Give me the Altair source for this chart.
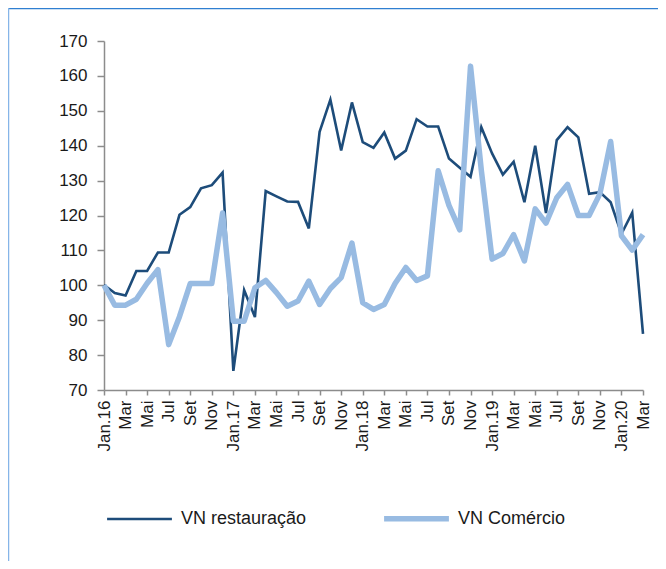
import altair as alt
import pandas as pd

series_names = ["VN restauração", "VN Comércio"]
series_colors = ["#1d4c7a", "#98bbe2"]
series_widths = [2.6, 5.5]

restauracao = [100.1, 97.8, 97.1, 104.1, 104.1, 109.4, 109.4, 120.2, 122.4, 127.8,
               128.7, 132.3, 75.5, 98.6, 90.9, 127.0, 125.5, 124.0, 123.9, 116.3,
               144.0, 153.2, 138.6, 152.4, 141.0, 139.4, 143.8, 136.3, 138.6, 147.6,
               145.5, 145.5, 136.3, 133.7, 131.1, 145.3, 137.8, 131.7, 135.4, 123.8,
               140.0, 120.7, 141.6, 145.3, 142.4, 126.2, 126.7, 123.8, 114.7, 120.8,
               86.1]
comercio = [100.0, 94.3, 94.3, 96.0, 100.6, 104.5, 83.0, 91.0, 100.5, 100.5,
            100.5, 120.7, 89.7, 89.7, 99.3, 101.4, 97.9, 94.0, 95.5, 101.2,
            94.5, 99.1, 102.2, 112.1, 95.0, 93.1, 94.5, 100.5, 105.1, 101.4,
            102.7, 132.8, 122.9, 115.9, 162.8, 133.0, 107.5, 109.1, 114.5, 107.0,
            121.9, 117.8, 125.1, 128.9, 120.0, 120.0, 126.2, 141.2, 114.2, 110.1,
            114.5]

tick_labels = ["Jan.16", "Mar", "Mai", "Jul", "Set", "Nov",
               "Jan.17", "Mar", "Mai", "Jul", "Set", "Nov",
               "Jan.18", "Mar", "Mai", "Jul", "Set", "Nov",
               "Jan.19", "Mar", "Mai", "Jul", "Set", "Nov",
               "Jan.20", "Mar"]
y_ticks = [70, 80, 90, 100, 110, 120, 130, 140, 150, 160, 170]

rows = []
for name, vals in zip(series_names, [restauracao, comercio]):
    for i, v in enumerate(vals):
        rows.append({"m": i, "v": v, "serie": name})
df = pd.DataFrame(rows)

FONT = "Liberation Sans"
label_expr = "[" + ",".join("'" + t + "'" for t in tick_labels) + "][round(datum.value / 2)]"


def make_legend():
    return alt.Legend(title=None, orient="none", legendX=0, legendY=442,
                      direction="horizontal", columns=2, columnPadding=66,
                      symbolType="stroke", symbolSize=4200,
                      labelFontSize=18, labelFont=FONT, labelColor="#1a1a1a",
                      labelOffset=6, padding=0)


color = alt.Color("serie:N",
                  scale=alt.Scale(domain=series_names, range=series_colors),
                  legend=make_legend())
width_enc = alt.StrokeWidth("serie:N",
                            scale=alt.Scale(domain=series_names, range=series_widths),
                            legend=make_legend())

x_enc = alt.X("m:Q", scale=alt.Scale(domain=[0, len(restauracao) - 1], nice=False, zero=False),
              axis=alt.Axis(title=None, values=list(range(0, len(restauracao), 2)),
                            labelExpr=label_expr, labelAngle=-90, labelAlign="right",
                            labelBaseline="middle", labelFontSize=17, labelFont=FONT,
                            labelColor="#1a1a1a", tickSize=5, labelPadding=5,
                            domainColor="#8c8c8c", tickColor="#8c8c8c", domainWidth=1.5,
                            tickWidth=1.5, grid=False, labelOverlap=False))
y_enc = alt.Y("v:Q", scale=alt.Scale(domain=[70, 170], nice=False, zero=False),
              axis=alt.Axis(title=None, values=y_ticks, labelFontSize=17, labelFont=FONT,
                            labelColor="#1a1a1a", tickSize=7, labelPadding=10,
                            domainColor="#8c8c8c", tickColor="#8c8c8c", domainWidth=1.5,
                            tickWidth=1.5, grid=False))

base = alt.Chart(df)
line_r = base.transform_filter(alt.datum.serie == series_names[0]).mark_line(strokeJoin="miter").encode(
    x=x_enc, y=y_enc, color=color, strokeWidth=width_enc)
line_c = base.transform_filter(alt.datum.serie == series_names[1]).mark_line(strokeJoin="round").encode(
    x=x_enc, y=y_enc, color=color, strokeWidth=width_enc)

frame_df = pd.DataFrame({"k": [0]})
top_rule = alt.Chart(frame_df).mark_rule(color="#2f7fd1", strokeWidth=1.5).encode(
    x=alt.value(-96), x2=alt.value(554), y=alt.value(-32.5))
left_rule = alt.Chart(frame_df).mark_rule(color="#86b5e8", strokeWidth=1.5).encode(
    x=alt.value(-95.5), y=alt.value(-33), y2=alt.value(520))

chart = alt.layer(top_rule, left_rule, line_r, line_c).properties(
    width=539, height=349,
    autosize=alt.AutoSizeParams(type="none"),
    padding={"left": 96, "top": 33, "right": 15, "bottom": 171},
).configure_view(stroke=None)

chart.save("out.html", embed_options={"renderer": "svg", "actions": False})
